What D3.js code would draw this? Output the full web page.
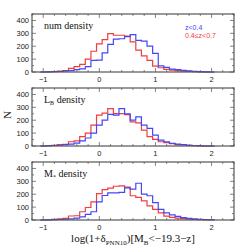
<!DOCTYPE html>
<html>
<head>
<meta charset="utf-8">
<script src="https://cdn.jsdelivr.net/npm/d3@7"></script>
<style>
  body { margin: 0; background: #fff; }
  svg { display: block; }
  .tick-label { font-family: "Liberation Sans", sans-serif; font-size: 7.5px; fill: #222; }
  .panel-label { font-family: "Liberation Serif", serif; font-size: 10px; fill: #111; }
  .axis-title { font-family: "Liberation Serif", serif; font-size: 11px; fill: #111; }
  .legend { font-family: "Liberation Sans", sans-serif; font-size: 7px; }
</style>
</head>
<body>
<script>
//bin centres (width 0.1) shared by all panels
var binCenters = [-1.0, -0.9, -0.8, -0.7, -0.6, -0.5, -0.4, -0.3, -0.2, -0.1, 0.0, 0.1, 0.2, 0.3, 0.4, 0.5, 0.6, 0.7, 0.8, 0.9, 1.0, 1.1, 1.2, 1.3, 1.4, 1.5, 1.6, 1.7, 1.8, 1.9, 2.0];

//num density
var numLow  = [0, 1, 2, 4, 8, 10, 18, 25, 42, 90, 92, 149, 215, 255, 258, 275, 290, 246, 240, 200, 144, 48, 36, 22, 18, 12, 8, 5, 3, 1, 0];
var numHigh = [0, 2, 4, 7, 10, 28, 41, 59, 100, 161, 218, 251, 297, 285, 285, 279, 233, 169, 125, 90, 45, 33, 20, 15, 10, 6, 4, 2, 1, 0, 0];
//L_B density
var lumLow  = [0, 2, 4, 6, 10, 15, 22, 40, 62, 100, 162, 200, 245, 240, 290, 250, 200, 226, 162, 136, 85, 46, 33, 20, 15, 10, 6, 4, 2, 0, 0];
var lumHigh = [0, 3, 5, 10, 13, 33, 40, 72, 100, 162, 240, 255, 290, 251, 251, 244, 187, 180, 123, 72, 51, 33, 26, 18, 10, 8, 5, 3, 1, 0, 0];
//M* density
var massLow  = [0, 1, 3, 4, 6, 9, 14, 25, 44, 64, 141, 190, 210, 210, 215, 250, 240, 285, 200, 188, 135, 82, 56, 40, 28, 18, 12, 8, 6, 4, 2];
var massHigh = [0, 2, 5, 8, 13, 31, 33, 64, 97, 140, 205, 236, 247, 262, 265, 255, 188, 175, 149, 109, 82, 56, 30, 21, 15, 10, 6, 4, 2, 1, 0];

var xTickLabels = [-1, 0, 1, 2];
var yTickLabels = [0, 100, 200, 300, 400];
var legendLabels = ["z<0.4", "0.4\u2264z<0.7"];

var blue = "#4646f8",
    red = "#ee3e3e";

var width = 249, height = 249,
    left = 32, right = 234,
    panelHeight = 58,
    panelTops = [14, 88, 162],
    binWidth = 0.1;

var svg = d3.select("body").append("svg")
    .attr("width", width)
    .attr("height", height);

var x = d3.scaleLinear().domain([-1.2, 2.4]).range([left, right]);

var panels = [
    {label: "num", sub: null, low: numLow, high: numHigh},
    {label: "L", sub: "B", low: lumLow, high: lumHigh},
    {label: "M", sub: "*", low: massLow, high: massHigh}
];

panels.forEach(function(p, i){
    var top = panelTops[i],
        bottom = top + panelHeight;
    var y = d3.scaleLinear().domain([0, 450]).range([bottom, top]);
    var g = svg.append("g");

    //step histograms
    [[p.high, red], [p.low, blue]].forEach(function(s){
        var pts = binCenters.map(function(c, k){ return [c - binWidth / 2, s[0][k]]; });
        pts.unshift([binCenters[0] - binWidth / 2, 0]);
        pts.push([binCenters[binCenters.length - 1] + binWidth / 2, s[0][s[0].length - 1]]);
        pts.push([binCenters[binCenters.length - 1] + binWidth / 2, 0]);
        var line = d3.line()
            .x(function(d){ return x(d[0]); })
            .y(function(d){ return y(d[1]); })
            .curve(d3.curveStepAfter);
        g.append("path")
            .attr("d", line(pts))
            .attr("fill", "none")
            .attr("stroke", s[1])
            .attr("stroke-width", 1.2);
    });

    //ticks on all four sides, pointing inward
    var tickColor = "#666";
    var xMinor = d3.range(-1.2, 2.41, 0.2);
    xMinor.forEach(function(v){
        var major = Math.abs(v - Math.round(v)) < 1e-6;
        var len = major ? 4 : 2;
        g.append("line").attr("x1", x(v)).attr("x2", x(v)).attr("y1", bottom).attr("y2", bottom - len).attr("stroke", tickColor).attr("stroke-width", 0.8);
        g.append("line").attr("x1", x(v)).attr("x2", x(v)).attr("y1", top).attr("y2", top + len).attr("stroke", tickColor).attr("stroke-width", 0.8);
    });
    d3.range(0, 451, 50).forEach(function(v){
        var len = v % 100 === 0 ? 4 : 2;
        g.append("line").attr("x1", left).attr("x2", left + len).attr("y1", y(v)).attr("y2", y(v)).attr("stroke", tickColor).attr("stroke-width", 0.8);
        g.append("line").attr("x1", right).attr("x2", right - len).attr("y1", y(v)).attr("y2", y(v)).attr("stroke", tickColor).attr("stroke-width", 0.8);
    });

    //frame
    g.append("rect")
        .attr("x", left).attr("y", top)
        .attr("width", right - left).attr("height", panelHeight)
        .attr("fill", "none")
        .attr("stroke", "#555")
        .attr("stroke-width", 1.2);

    //tick labels
    g.selectAll(".ylab").data(yTickLabels).enter().append("text")
        .attr("class", "tick-label")
        .attr("x", left - 3)
        .attr("y", function(d){ return y(d) + 2.7; })
        .attr("text-anchor", "end")
        .text(function(d){ return d; });
    g.selectAll(".xlab").data(xTickLabels).enter().append("text")
        .attr("class", "tick-label")
        .attr("x", function(d){ return x(d); })
        .attr("y", bottom + 10)
        .attr("text-anchor", "middle")
        .text(function(d){ return d < 0 ? "\u2212" + Math.abs(d) : d; });

    //panel label
    var t = g.append("text").attr("class", "panel-label")
        .attr("x", 44).attr("y", top + 15);
    t.append("tspan").text(p.label);
    if (p.sub){
        t.append("tspan").attr("font-size", "6px").attr("dy", 2).text(p.sub);
        t.append("tspan").attr("dy", -2).text(" density");
    } else {
        t.append("tspan").text(" density");
    }
});

//legend
svg.append("text").attr("class", "legend").attr("x", 185).attr("y", 30).attr("fill", blue).text(legendLabels[0]);
svg.append("text").attr("class", "legend").attr("x", 185).attr("y", 37.5).attr("fill", red).text(legendLabels[1]);

//y title
svg.append("text").attr("class", "axis-title")
    .attr("transform", "translate(11,115) rotate(-90)")
    .attr("text-anchor", "middle")
    .text("N");

//x title
var xt = svg.append("text").attr("class", "axis-title")
    .attr("x", (left + right) / 2).attr("y", 242)
    .attr("text-anchor", "middle");
xt.append("tspan").text("log(1+\u03b4");
xt.append("tspan").attr("font-size", "7px").attr("dy", 2.5).text("PNN10");
xt.append("tspan").attr("dy", -2.5).text(")[M");
xt.append("tspan").attr("font-size", "7px").attr("dy", 2.5).text("B");
xt.append("tspan").attr("dy", -2.5).text("<\u221219.3\u2212z]");
</script>
</body>
</html>
